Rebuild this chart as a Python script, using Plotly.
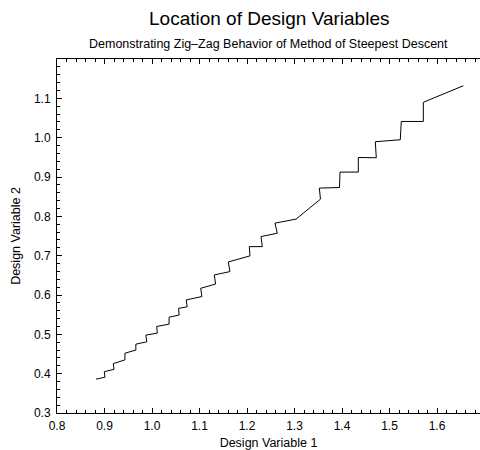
import plotly.graph_objects as go

design_var_1 = [0.882, 0.901, 0.8996, 0.920, 0.9185, 0.943, 0.943, 0.966, 0.966, 0.989,
                0.987, 1.011, 1.010, 1.036, 1.036, 1.057, 1.056, 1.074, 1.072, 1.105,
                1.1025, 1.134, 1.131, 1.164, 1.1606, 1.2063, 1.2048, 1.2322, 1.2295, 1.2638,
                1.2589, 1.3032, 1.3547, 1.3522, 1.3947, 1.3958, 1.4343, 1.4343, 1.4722, 1.4701,
                1.5227, 1.5248, 1.5712, 1.5712, 1.6554]
design_var_2 = [0.386, 0.391, 0.405, 0.411, 0.4255, 0.435, 0.452, 0.460, 0.475, 0.481,
                0.498, 0.503, 0.520, 0.526, 0.5435, 0.549, 0.566, 0.570, 0.5875, 0.596,
                0.617, 0.628, 0.651, 0.6595, 0.684, 0.6995, 0.723, 0.723, 0.7486, 0.757,
                0.7827, 0.7929, 0.8438, 0.8718, 0.8733, 0.9125, 0.9125, 0.9496, 0.9489, 0.9896,
                0.9947, 1.0412, 1.0412, 1.090, 1.132]

x_tick_vals = [0.8, 0.9, 1.0, 1.1, 1.2, 1.3, 1.4, 1.5, 1.6]
y_tick_vals = [0.3, 0.4, 0.5, 0.6, 0.7, 0.8, 0.9, 1.0, 1.1]

title_text = "Location of Design Variables"
subtitle_text = "Demonstrating Zig\u2013Zag Behavior of Method of Steepest Descent"
x_label = "Design Variable 1"
y_label = "Design Variable 2"

FONT = "Liberation Sans, Arial, Helvetica, sans-serif"

fig = go.Figure()
fig.add_trace(go.Scatter(x=design_var_1, y=design_var_2, mode="lines",
                         line=dict(color="black", width=1), showlegend=False,
                         hoverinfo="skip"))

axis_common = dict(
    showgrid=False, zeroline=False, showline=True, linecolor="black", linewidth=1,
    ticks="inside", ticklen=5, tickwidth=1, tickcolor="black",
    tickformat=".1f", tickfont=dict(family=FONT, size=12, color="black"),
    minor=dict(ticks="inside", ticklen=3, tickwidth=1, tickcolor="black", dtick=0.02, showgrid=False),
)

fig.update_layout(
    width=480, height=450,
    margin=dict(l=57, r=0, t=59, b=37),
    paper_bgcolor="white", plot_bgcolor="white",
    font=dict(family=FONT, color="black"),
    xaxis=dict(range=[0.8, 1.6905], mirror="ticks", tickvals=x_tick_vals,
               ticklabelstandoff=2,
               title=dict(text=x_label, font=dict(family=FONT, size=12.5), standoff=5),
               **axis_common),
    yaxis=dict(range=[0.3, 1.2], mirror=False, tickvals=y_tick_vals,
               ticklabelstandoff=3,
               title=dict(text=y_label, font=dict(family=FONT, size=12.5), standoff=10),
               **axis_common),
    annotations=[
        dict(text=title_text, xref="paper", yref="paper", x=0.5, y=(413 - 18) / 354,
             xanchor="center", yanchor="middle", showarrow=False,
             font=dict(family=FONT, size=19, color="black")),
        dict(text=subtitle_text, xref="paper", yref="paper", x=0.5, y=(413 - 44) / 354,
             xanchor="center", yanchor="middle", showarrow=False,
             font=dict(family=FONT, size=12.5, color="black")),
    ],
)

fig.write_html("out.html")
